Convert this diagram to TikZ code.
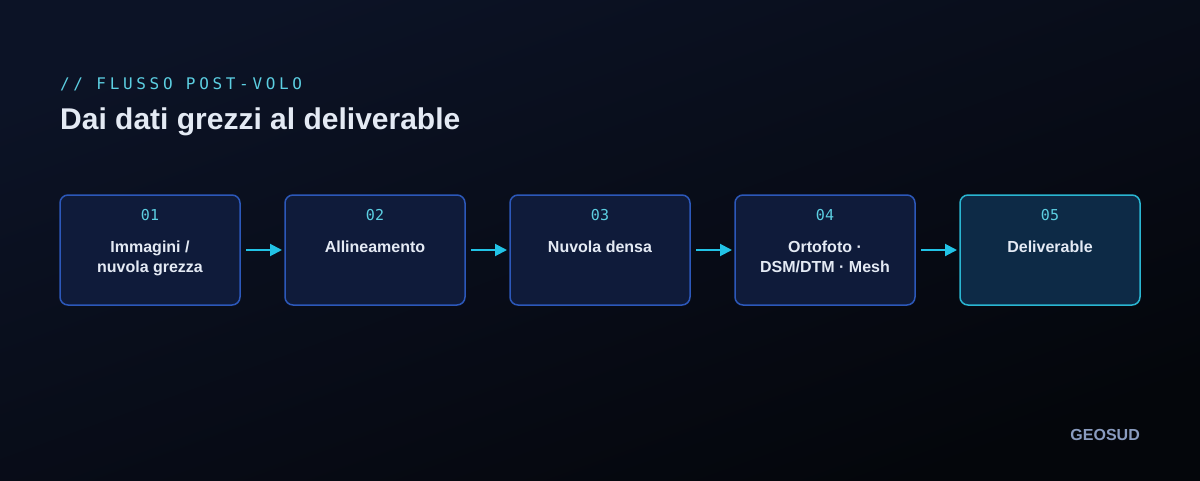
\documentclass[tikz,border=0pt]{standalone}
\usepackage{fontspec}
\setmainfont{Liberation Sans}
\newfontfamily\monof{DejaVu Sans Mono}
\newfontfamily\monosp[LetterSpace=23]{DejaVu Sans Mono}
\usetikzlibrary{arrows.meta}
\definecolor{bgtop}{HTML}{0C1326}
\definecolor{bgbot}{HTML}{04060B}
\definecolor{boxfill}{HTML}{0F1B3A}
\definecolor{boxline}{HTML}{2C58BA}
\definecolor{lastfill}{HTML}{0D2A46}
\definecolor{lastline}{HTML}{2AB6D2}
\definecolor{accent}{HTML}{5CCFE2}
\definecolor{arrowc}{HTML}{22C3E6}
\definecolor{txt}{HTML}{E4EAF4}
\definecolor{brand}{HTML}{8A9CC0}
\tikzset{
  stepbox/.style={draw=boxline, fill=boxfill, line width=1.5pt, rounded corners=8pt},
  lastbox/.style={draw=lastline, fill=lastfill, line width=1.5pt, rounded corners=8pt},
  numtxt/.style={anchor=base, text=accent, font=\monof\fontsize{15}{18}\selectfont, inner sep=0pt},
  labtxt/.style={anchor=base, text=txt, font=\bfseries\fontsize{16}{20}\selectfont, align=center, inner sep=0pt},
  flow/.style={draw=arrowc, line width=2pt, -{Triangle[length=12pt,width=12pt]}},
}
\begin{document}
\begin{tikzpicture}[x=1pt,y=-1pt]
\useasboundingbox (0,0) rectangle (1200,480);
\shade[top color=bgtop, bottom color=bgbot, shading angle=20] (0,0) rectangle (1200,480);
\node[anchor=base west, inner sep=0pt, text=accent, font=\monosp\fontsize{16}{19}\selectfont] (kicker) at (60,89.5) {// FLUSSO POST-VOLO};
\node[anchor=base west, inner sep=0pt, text=txt, font=\bfseries\fontsize{30}{36}\selectfont] (title) at (60,129) {Dai dati grezzi al deliverable};
\foreach \i/\x/\n/\t in {1/60/01/{Immagini /\\nuvola grezza}, 2/285/02/{Allineamento}, 3/510/03/{Nuvola densa}, 4/735/04/{Ortofoto ·\\DSM/DTM · Mesh}}{
  \path[stepbox] (\x,195) rectangle ++(180,110);
  \coordinate (b\i w) at (\x,250);
  \coordinate (b\i e) at (\x+180,250);
  \node[numtxt] (n\i) at (\x+90,220) {\n};
  \node[labtxt, anchor=north] (l\i) at (\x+90,240.5) {\t};
}
\path[lastbox] (960,195) rectangle ++(180,110);
\coordinate (b5w) at (960,250);
\node[numtxt] (n5) at (1050,220) {05};
\node[labtxt, anchor=north] (l5) at (1050,240.5) {Deliverable};
\draw[flow] ([xshift=6pt]b1e) -- ([xshift=-3pt]b2w);
\draw[flow] ([xshift=6pt]b2e) -- ([xshift=-3pt]b3w);
\draw[flow] ([xshift=6pt]b3e) -- ([xshift=-3pt]b4w);
\draw[flow] ([xshift=6pt]b4e) -- ([xshift=-3pt]b5w);
\node[anchor=base east, inner sep=0pt, text=brand, font=\bfseries\fontsize{16}{19}\selectfont] (brand) at (1140,440) {GEOSUD};
\end{tikzpicture}
\end{document}
